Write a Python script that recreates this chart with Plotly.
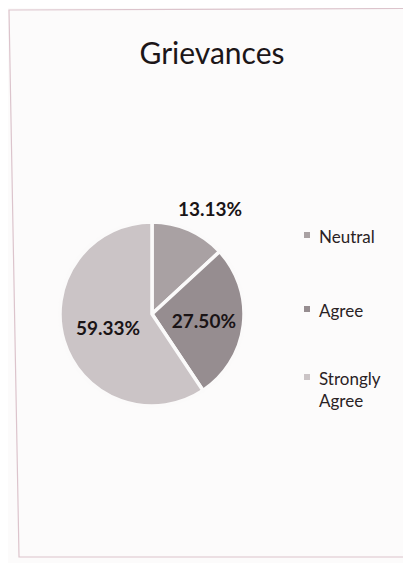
import plotly.graph_objects as go

title = "Grievances"
labels = ["Neutral", "Agree", "Strongly Agree"]
legend_text = ["Neutral", "Agree", "Strongly<br>Agree"]
values = [13.13, 27.50, 59.33]
colors = ["#a9a1a3", "#968d90", "#cbc4c6"]
text_pos = ["none", "inside", "inside"]

W, H = 411, 563
OFF = 8  # page body margin

def px(x):
    return (x - OFF) / W

def py(y):
    return 1 - (y - OFF) / H

label_font = dict(family="Lato", size=19, color="#1a1416")

fig = go.Figure()
fig.add_trace(go.Pie(
    labels=labels,
    values=values,
    sort=False,
    direction="clockwise",
    rotation=0,
    marker=dict(colors=colors, line=dict(color="#fbfafa", width=3.5)),
    texttemplate="<b>%{value:.2f}%</b>",
    textposition=text_pos,
    insidetextorientation="horizontal",
    textfont=label_font,
    domain=dict(x=[px(60), px(244)], y=[py(406), py(222)]),
    showlegend=False,
    hoverinfo="label+percent",
))

# outside data label of the small slice
fig.add_annotation(x=px(210), y=py(208), xref="paper", yref="paper",
                   text=f"<b>{values[0]:.2f}%</b>", showarrow=False,
                   xanchor="center", yanchor="middle", font=label_font)

# frame of the chart area (slightly skewed scan)
fig.add_shape(type="path", xref="paper", yref="paper",
              path=f"M {px(9)},{py(10)} L {px(406)},{py(8.5)} L {px(406)},{py(557)} L {px(19)},{py(557)} Z",
              line=dict(color="#dcc4cc", width=1.2), fillcolor="rgba(0,0,0,0)")

# legend drawn as annotations
leg_y = [235, 309, 377]
for lab, c, y in zip(legend_text, colors, leg_y):
    fig.add_shape(type="rect", xref="paper", yref="paper",
                  x0=px(304), x1=px(310), y0=py(y + 3), y1=py(y - 3),
                  fillcolor=c, line=dict(width=0))
    fig.add_annotation(x=px(317), y=py(y - 11), xref="paper", yref="paper",
                       text=lab, showarrow=False, xanchor="left", yanchor="top",
                       align="left",
                       font=dict(family="Lato", size=17, color="#2a2224"))

fig.update_layout(
    width=W, height=H,
    margin=dict(l=0, r=0, t=0, b=0),
    paper_bgcolor="#fcfbfb",
    title=dict(text=title, x=px(212), xanchor="center", y=py(53), yanchor="middle",
               font=dict(family="Lato", size=30, color="#1c1618")),
)

fig.write_html("out.html")
